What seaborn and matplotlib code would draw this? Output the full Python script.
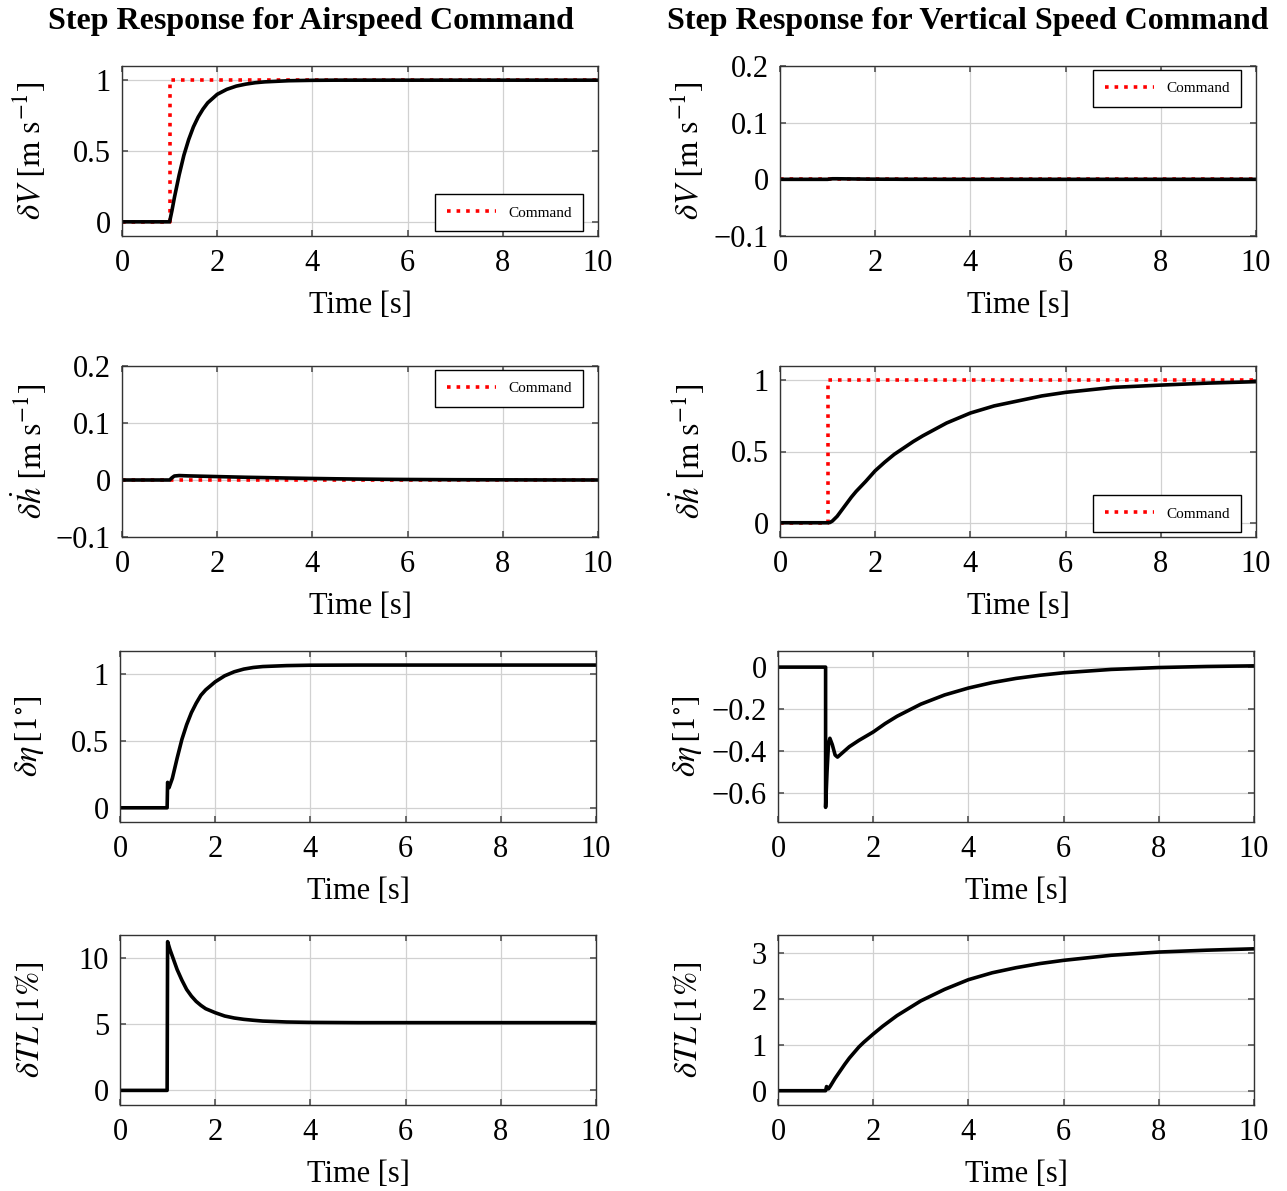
import matplotlib
matplotlib.use("Agg")
import matplotlib.pyplot as plt
import seaborn as sns

# ---------------- data ----------------
# command signals
t_cmd = [0, 1, 1, 10]
step_cmd = [0, 0, 1, 1]
zero_cmd = [0, 0, 0, 0]

# common time base for the smooth responses
t_resp = [0, 1.0, 1.05, 1.1, 1.2, 1.3, 1.4, 1.5, 1.6, 1.7, 1.8, 2.0, 2.2, 2.4,
          2.6, 2.8, 3.0, 3.5, 4.0, 4.5, 5.0, 5.5, 6.0, 7.0, 8.0, 9.0, 10.0]

# airspeed command
air_dV = [0, 0, 0.08, 0.17, 0.33, 0.47, 0.58, 0.67, 0.74, 0.795, 0.84, 0.90, 0.935, 0.958,
          0.972, 0.982, 0.988, 0.996, 0.999, 1, 1, 1, 1, 1, 1, 1, 1]
air_dhdot = [0, 0, 0.004, 0.007, 0.0078, 0.0075, 0.0072, 0.007, 0.0068, 0.0066, 0.0064, 0.006,
             0.0056, 0.0052, 0.0048, 0.0045, 0.0042, 0.0034, 0.0027, 0.0021, 0.0016, 0.0012,
             0.0009, 0.0005, 0.0003, 0.0001, 0.0]
t_eta_air = [0, 0.99, 1.0, 1.03, 1.1, 1.2, 1.3, 1.4, 1.5, 1.6, 1.7, 1.8, 2.0, 2.2, 2.4, 2.6,
             2.8, 3.0, 3.5, 4.0, 5.0, 10.0]
air_eta = [0, 0, 0.19, 0.15, 0.22, 0.37, 0.51, 0.62, 0.71, 0.78, 0.84, 0.88, 0.94, 0.985,
           1.015, 1.035, 1.047, 1.054, 1.061, 1.064, 1.065, 1.065]
t_tl_air = [0, 0.99, 1.0, 1.05, 1.1, 1.2, 1.3, 1.4, 1.5, 1.6, 1.7, 1.8, 2.0, 2.2, 2.4, 2.6,
            2.8, 3.0, 3.5, 4.0, 5.0, 10.0]
air_tl = [0, 0, 11.2, 10.6, 10.1, 9.1, 8.3, 7.6, 7.1, 6.7, 6.4, 6.15, 5.85, 5.6, 5.45, 5.35,
          5.28, 5.22, 5.15, 5.12, 5.1, 5.1]

# vertical speed command
vs_dV = [0, 0, 0.0005, 0.001, 0.001, 0.0009, 0.0008, 0.0007, 0.0006, 0.0005, 0.0004, 0.0003,
         0.0002, 0.0002, 0.0001, 0.0001, 0.0001, 0, 0, 0, 0, 0, 0, 0, 0, 0, 0]
vs_dhdot = [0, 0, 0.002, 0.012, 0.045, 0.09, 0.135, 0.18, 0.22, 0.255, 0.29, 0.365, 0.425,
            0.48, 0.525, 0.57, 0.61, 0.70, 0.77, 0.82, 0.855, 0.89, 0.915, 0.95, 0.966, 0.98,
            0.99]
t_eta_vs = [0, 1.0, 1.0, 1.03, 1.06, 1.09, 1.14, 1.2, 1.25, 1.3, 1.4, 1.5, 1.7, 2.0, 2.25,
            2.5, 3.0, 3.5, 4.0, 4.5, 5.0, 5.5, 6.0, 7.0, 8.0, 9.0, 10.0]
vs_eta = [0, 0, -0.67, -0.5, -0.37, -0.34, -0.37, -0.42, -0.43, -0.42, -0.40, -0.38, -0.35,
          -0.31, -0.27, -0.235, -0.177, -0.133, -0.10, -0.074, -0.054, -0.039, -0.027,
          -0.011, -0.002, 0.003, 0.006]
t_tl_vs = [0, 1.0, 1.02, 1.06, 1.1, 1.2, 1.3, 1.4, 1.5, 1.6, 1.7, 1.8, 2.0, 2.2, 2.5, 3.0,
           3.5, 4.0, 4.5, 5.0, 5.5, 6.0, 7.0, 8.0, 9.0, 10.0]
vs_tl = [0, 0, 0.09, 0.04, 0.1, 0.27, 0.42, 0.57, 0.71, 0.83, 0.95, 1.05, 1.23, 1.40, 1.63,
         1.95, 2.2, 2.41, 2.56, 2.67, 2.76, 2.83, 2.94, 3.01, 3.05, 3.08]

titles = ["Step Response for Airspeed Command", "Step Response for Vertical Speed Command"]
ylabels = [r"$\delta V\ [\mathrm{m\ s}^{-1}]$", r"$\delta \dot{h}\ [\mathrm{m\ s}^{-1}]$",
           r"$\delta\eta\,[1^{\circ}]$", r"$\delta TL\,[1\%]$"]
xticks = [0, 2, 4, 6, 8, 10]

# ---------------- style ----------------
sns.set_theme(style="whitegrid")
plt.rcParams["font.family"] = ["Liberation Serif", "DejaVu Serif"]
plt.rcParams["mathtext.fontset"] = "stix"
plt.rcParams["text.color"] = "black"
plt.rcParams["axes.labelcolor"] = "black"
plt.rcParams["xtick.color"] = "black"
plt.rcParams["ytick.color"] = "black"
plt.rcParams["grid.color"] = "0.82"
plt.rcParams["grid.linewidth"] = 0.9

fig = plt.figure(figsize=(12.87, 11.91), dpi=100)
W, H = 1287, 1191

rows_px = [(66, 236), (366, 537), (651, 822), (935, 1105)]
cols_px = [[122, 122, 120, 120], [780, 780, 778, 778]]

# (time, response, command, ylim, yticks, yticklabels, legend loc)
panels = [
    [
        (t_resp, air_dV, step_cmd, (-0.1, 1.1), [0, 0.5, 1], ["0", "0.5", "1"], "lower right"),
        (t_resp, air_dhdot, zero_cmd, (-0.1, 0.2), [-0.1, 0, 0.1, 0.2],
         ["\u22120.1", "0", "0.1", "0.2"], "upper right"),
        (t_eta_air, air_eta, None, (-0.106, 1.17), [0, 0.5, 1], ["0", "0.5", "1"], None),
        (t_tl_air, air_tl, None, (-1.1, 11.7), [0, 5, 10], ["0", "5", "10"], None),
    ],
    [
        (t_resp, vs_dV, zero_cmd, (-0.1, 0.2), [-0.1, 0, 0.1, 0.2],
         ["\u22120.1", "0", "0.1", "0.2"], "upper right"),
        (t_resp, vs_dhdot, step_cmd, (-0.1, 1.1), [0, 0.5, 1], ["0", "0.5", "1"], "lower right"),
        (t_eta_vs, vs_eta, None, (-0.74, 0.077), [-0.6, -0.4, -0.2, 0],
         ["\u22120.6", "\u22120.4", "\u22120.2", "0"], None),
        (t_tl_vs, vs_tl, None, (-0.31, 3.38), [0, 1, 2, 3], ["0", "1", "2", "3"], None),
    ],
]

for c in range(2):
    for r in range(4):
        top, bot = rows_px[r]
        x0 = cols_px[c][r]
        ax = fig.add_axes([x0 / W, 1 - bot / H, 476 / W, (bot - top) / H])
        t, y, cmd, ylim, yt, ytl, loc = panels[c][r]
        if cmd is not None:
            sns.lineplot(x=t_cmd, y=cmd, ax=ax, color="red", linestyle=":", linewidth=2.6,
                         estimator=None, sort=False, label="Command")
        sns.lineplot(x=t, y=y, ax=ax, color="black", linewidth=2.6,
                     estimator=None, sort=False)
        ax.set_xlim(0, 10)
        ax.set_ylim(*ylim)
        ax.set_xticks(xticks)
        ax.set_xticklabels([str(v) for v in xticks])
        ax.set_yticks(yt)
        ax.set_yticklabels(ytl)
        ax.tick_params(labelsize=22, direction="in", length=4, top=True, right=True,
                       color="0.35", labelcolor="black", pad=8, bottom=True, left=True)
        ax.tick_params(axis="x", pad=9.5)
        for s in ax.spines.values():
            s.set_linewidth(1.0)
            s.set_color("0.2")
        ax.set_xlabel("Time [s]", fontsize=22, labelpad=9)
        ax.set_ylabel(ylabels[r], fontsize=23.5)
        ax.yaxis.set_label_coords(-0.155, 0.5)
        if loc is not None:
            h = bot - top
            anchor = (1 - 15 / 476, 5 / h) if loc == "lower right" else (1 - 15 / 476, 1 - 4 / h)
            leg = ax.legend(loc=loc, bbox_to_anchor=anchor, fontsize=11, frameon=True,
                            fancybox=False, framealpha=1, edgecolor="black",
                            handlelength=3.2, borderpad=0.75, borderaxespad=0)
            leg.get_frame().set_linewidth(1.0)
        elif ax.get_legend() is not None:
            ax.get_legend().remove()

fig.text(311 / W, 1 - 21 / H, titles[0], ha="center", va="center", fontsize=23,
         fontweight="bold")
fig.text(968 / W, 1 - 21 / H, titles[1], ha="center", va="center", fontsize=23,
         fontweight="bold")

fig.savefig("out.png", dpi=100)
